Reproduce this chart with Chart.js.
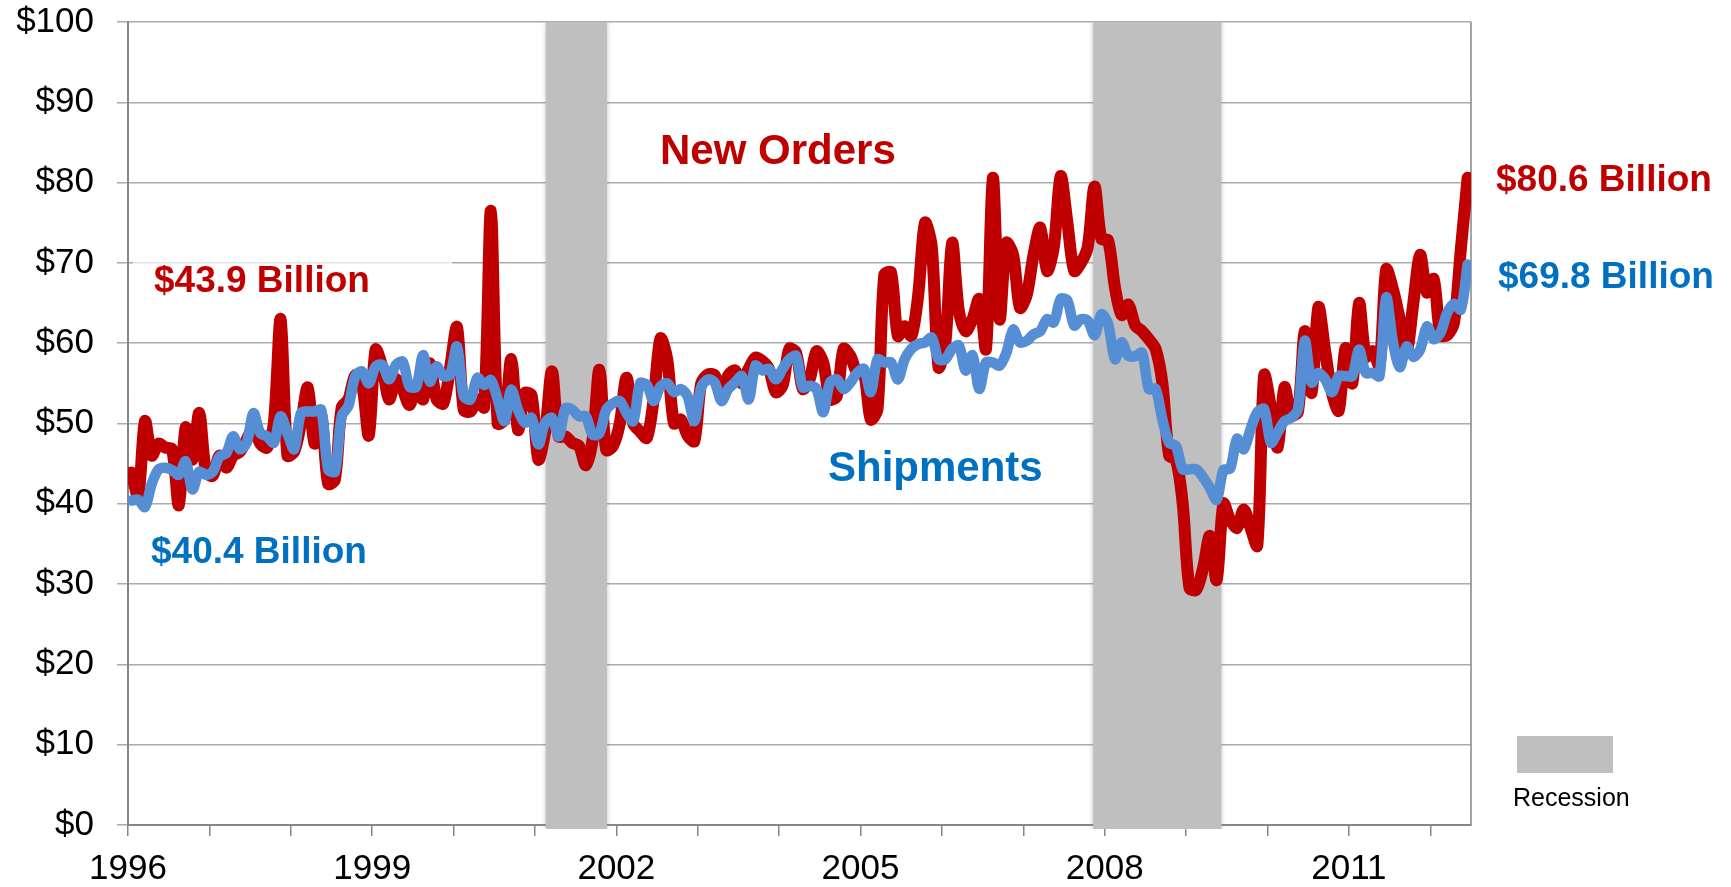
<!DOCTYPE html>
<html>
<head>
<meta charset="utf-8">
<script src="https://cdn.jsdelivr.net/npm/chart.js@4/dist/chart.umd.min.js"></script>
<style>
html,body{margin:0;padding:0;background:#fff;}
#wrap{width:1731px;height:887px;position:relative;}
canvas{display:block;}
</style>
</head>
<body>
<div id="wrap"><canvas id="c"></canvas></div>
<script>
// ---------- data ----------
const startYear = 1996;                       // first month = Jan 1996
const tickYears = [1996,1997,1998,1999,2000,2001,2002,2003,2004,2005,2006,2007,2008,2009,2010,2011,2012];
const labelYears = [1996,1999,2002,2005,2008,2011];
const yTickValues = [0,10,20,30,40,50,60,70,80,90,100];
const recessionStartMonth = [61.6, 142.3];    // month position (0 = start of Jan 1996)
const recessionEndMonth   = [70.6, 161.2];

// New Orders, monthly, $ billions
const newOrders = [
  43.9, 41, 50.3, 46, 47.5, 47, 46.8, 39.8, 49.5, 45.5, 51.3, 44,
  43.5, 46, 44.5, 46, 46.5, 48, 49.5, 47.5, 47, 50, 63, 46,
  46.5, 50, 54.5, 47.5, 51, 42.5, 43, 52, 53, 56, 55, 48.5,
  59.2, 57, 53, 55.5, 54.2, 52.3, 54.6, 53, 57.5, 53, 52.5, 57,
  62, 51.7, 51.5, 53, 52, 76.5, 50, 50.5, 58, 49.2, 53.8, 53.5,
  45.5, 49, 56.5, 48.4, 48.4, 47.6, 47.2, 44.8, 48, 56.7, 46.7, 47.2,
  50, 55.7, 50, 49, 48.2, 53, 60.6, 58, 50, 50.5, 48.5, 47.8,
  55, 56.1, 56, 53.9, 56, 56.6, 55, 56.8, 58.2, 57.8, 56.8, 53.9,
  54.7, 59.3, 58.8, 54.3, 55.5, 59, 57.6, 53, 53.4, 59.3, 58.4, 56.3,
  56.3, 50.5, 51.8, 68.5, 68.8, 60.9, 62.1, 60.9, 66, 75, 72, 57,
  60, 72.5, 64, 61.5, 63, 65.5, 59.3, 80.6, 63, 72.5, 71, 64.4,
  66, 71, 74.4, 69, 72, 80.8, 75, 69, 70, 72, 79.5, 73,
  72.8, 67, 63.5, 64.8, 62.2, 61.5, 60.5, 59.3, 55, 46, 45.5, 40,
  29.5, 29.3, 32, 36, 30.5, 40, 38, 37, 39.3, 37, 34.8, 56,
  52, 47, 54.5, 51, 51.5, 61.5, 53.8, 64.5, 59, 53.8, 51.6, 59.4,
  55, 65, 58.3, 59, 57.2, 69.2, 66.7, 63, 59, 65, 71, 66.3,
  68, 61, 61, 62.6, 71.7, 80.6
];

// Shipments, monthly, $ billions
const shipments = [
  40.4, 40.5, 39.6, 42.5, 44.3, 44.5, 44.2, 43.6, 45.3, 41.8, 44, 43.6,
  44, 45.9, 46.3, 48.4, 46.8, 47.6, 51.3, 48.8, 48.4, 47.6, 50.9, 48.8,
  46.8, 51.3, 51.5, 51.5, 51.7, 44.3, 44, 50.9, 52.2, 55.9, 56.5, 55,
  57.1, 57.3, 55.5, 57.3, 57.7, 54.6, 54.6, 58.5, 55.2, 57.1, 55.9, 56.1,
  59.6, 53.4, 53, 55.7, 54.8, 55.4, 53, 50.3, 54.2, 51.7, 50.1, 50.7,
  47.4, 50.1, 50.7, 48.4, 51.9, 51.7, 50.9, 50.9, 48.6, 48.8, 51.7, 52.5,
  52.8, 51.3, 50.3, 55, 54.8, 52.8, 54.6, 55, 53.9, 54.3, 53.4, 50.3,
  54.5, 55.5, 55.1, 52.8, 54.3, 55.1, 55.9, 53, 57.2, 56.6, 56.8, 55.5,
  56.8, 58, 58.4, 54.5, 54.7, 54.3, 51.4, 55.1, 55.5, 54.3, 55.1, 56.3,
  56.8, 53.9, 58, 57.6, 57.6, 55.5, 58, 59.3, 59.9, 60.1, 60.7, 58,
  58, 59.3, 59.7, 56.6, 58.5, 54.3, 57.6, 57.6, 57.2, 58.8, 61.7, 60.1,
  60.3, 61.1, 61.5, 63, 62.6, 65.5, 65.3, 62.2, 63, 62.8, 61, 63.6,
  62.4, 58, 60.1, 58.4, 58.4, 58.8, 54.3, 54.3, 50.5, 47.6, 47.2, 44.3,
  44.3, 44.3, 43.3, 42, 40.5, 44.2, 44.4, 48.1, 46.8, 49.3, 51.4, 51.8,
  47.6, 48.9, 50.3, 50.7, 51.8, 60.3, 55.1, 56.3, 55.5, 53.9, 55.9, 55.9,
  55.9, 59.2, 56.3, 56.3, 55.9, 65.7, 60.1, 57, 59.6, 58.3, 59.2, 62.1,
  60.5, 61.3, 63.8, 64.9, 64.2, 69.8
];

// ---------- chart ----------
const FONT = '"Liberation Sans", Arial, Helvetica, sans-serif';
const RED = '#C00000', BLUE_LINE = '#558ED5', BLUE_TEXT = '#0070C0', GRAY = '#BFBFBF';
const nMonths = newOrders.length;
const toPts = arr => arr.map((v, i) => ({ x: i + 0.5, y: v }));
const fmt = v => '$' + v.toFixed(1) + ' Billion';

const decorPlugin = {
  id: 'decor',
  beforeDatasetsDraw(chart) {
    const { ctx, chartArea: a, scales: { x } } = chart;
    ctx.save();
    // light box behind the first New Orders label
    ctx.fillStyle = 'rgba(255,255,255,0.7)';
    ctx.fillRect(133, 261, 319, 4);
    // recession bands
    ctx.beginPath();
    ctx.rect(a.left, a.top, a.right - a.left, a.bottom - a.top + 4);
    ctx.clip();
    ctx.fillStyle = GRAY;
    ctx.shadowColor = 'rgba(140,140,140,0.7)';
    ctx.shadowBlur = 5;
    recessionStartMonth.forEach((s, k) => {
      const x0 = x.getPixelForValue(s), x1 = x.getPixelForValue(recessionEndMonth[k]);
      ctx.fillRect(x0, a.top, x1 - x0, a.bottom - a.top + 4);
    });
    ctx.restore();
    // right border of plot area
    ctx.save();
    ctx.strokeStyle = '#868686';
    ctx.lineWidth = 1.5;
    ctx.beginPath();
    ctx.moveTo(a.right, a.top);
    ctx.lineTo(a.right, a.bottom);
    ctx.stroke();
    ctx.restore();
  },
  afterDraw(chart) {
    const { ctx } = chart;
    ctx.save();
    ctx.textAlign = 'left';
    ctx.textBaseline = 'alphabetic';
    ctx.font = 'bold 42px ' + FONT;
    ctx.fillStyle = RED;
    ctx.fillText('New Orders', 660, 164);
    ctx.fillStyle = BLUE_TEXT;
    ctx.fillText('Shipments', 828, 481);
    ctx.font = 'bold 37px ' + FONT;
    ctx.fillStyle = RED;
    ctx.fillText(fmt(newOrders[0]), 154, 292);
    ctx.fillText(fmt(newOrders[nMonths - 1]), 1496, 191);
    ctx.fillStyle = BLUE_TEXT;
    ctx.fillText(fmt(shipments[0]), 151, 563);
    ctx.fillText(fmt(shipments[nMonths - 1]), 1498, 288);
    // recession legend
    ctx.fillStyle = GRAY;
    ctx.fillRect(1517, 736, 96, 37);
    ctx.fillStyle = '#000';
    ctx.font = '25px ' + FONT;
    ctx.fillText('Recession', 1513, 806);
    ctx.restore();
  }
};

new Chart(document.getElementById('c'), {
  type: 'line',
  data: {
    datasets: [
      {
        label: 'Shipments',
        data: toPts(shipments),
        borderColor: BLUE_LINE,
        borderWidth: 10.5,
        pointRadius: 0,
        tension: 0.3,
        borderJoinStyle: 'round',
        borderCapStyle: 'round',
        order: 0
      },
      {
        label: 'New Orders',
        data: toPts(newOrders),
        borderColor: RED,
        borderWidth: 12,
        pointRadius: 0,
        tension: 0.3,
        borderJoinStyle: 'round',
        borderCapStyle: 'round',
        order: 1
      }
    ]
  },
  options: {
    responsive: true,
    maintainAspectRatio: false,
    animation: false,
    devicePixelRatio: 1,
    layout: { padding: { top: 22, right: 260, left: 0, bottom: 0 } },
    plugins: { legend: { display: false }, tooltip: { enabled: false } },
    scales: {
      x: {
        type: 'linear',
        min: 0,
        max: nMonths,
        afterBuildTicks: s => { s.ticks = tickYears.map(y => ({ value: (y - startYear) * 12 })); },
        afterFit: s => { s.height = 62; s.paddingLeft = 0; s.paddingRight = 0; },
        grid: { drawOnChartArea: false, drawTicks: true, tickLength: 11, color: '#868686', lineWidth: 1.5 },
        border: { color: '#868686', width: 2 },
        ticks: {
          autoSkip: false, maxRotation: 0, minRotation: 0, padding: 12,
          color: '#000', font: { family: FONT, size: 35 },
          callback: v => { const yr = startYear + v / 12; return labelYears.includes(yr) ? String(yr) : ''; }
        }
      },
      y: {
        min: 0,
        max: 100,
        afterBuildTicks: s => { s.ticks = yTickValues.map(v => ({ value: v })); },
        afterFit: s => { s.width = 128; s.paddingTop = 0; s.paddingBottom = 0; },
        grid: { color: '#ABABAB', lineWidth: 1.5, tickLength: 11 },
        border: { color: '#868686', width: 2 },
        ticks: {
          padding: 23, color: '#000', font: { family: FONT, size: 35 },
          callback: v => '$' + v
        }
      }
    }
  },
  plugins: [decorPlugin]
});
</script>
</body>
</html>
